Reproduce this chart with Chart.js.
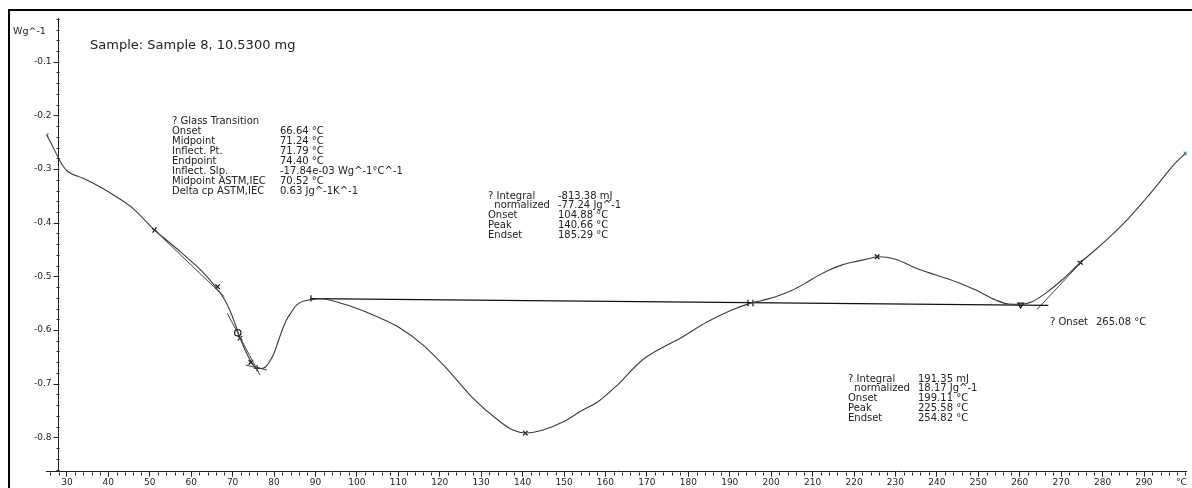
<!DOCTYPE html>
<html>
<head>
<meta charset="utf-8">
<script src="https://cdn.jsdelivr.net/npm/chart.js@4.4.1/dist/chart.umd.min.js"></script>
<style>
  html, body { margin: 0; padding: 0; background: #fff; }
  canvas { display: block; }
</style>
</head>
<body>
<canvas id="dsc" width="1192" height="488"></canvas>
<script>
// DSC heating curve, Sample 8 (10.5300 mg): temperature in °C, heat flow in W/g
const temperature = [
  25.12, 26.4, 27.84, 29.04, 30.31, 33.92, 37.93, 41.94, 45.93, 51.15,
  53.31, 55.47, 57.63, 59.80, 61.96, 64.12, 66.28, 67.97, 69.41, 70.61,
  71.81, 73.01, 74.21, 75.17, 75.97, 76.86, 77.99, 79.02, 79.98, 80.94,
  81.98, 82.99, 83.99, 85.03, 85.99, 87.19, 88.39, 89.59, 91.28, 96.8,
  102.8, 110.0, 116.0, 122.0, 128.0, 134.05, 137.65, 141.0, 144.9, 149.7,
  154.5, 158.1, 162.9, 168.9, 174.9, 177.3, 184.5, 190.5, 194.9, 197.8,
  201.4, 204.9, 208.1, 211.0, 213.9, 217.0, 220.6, 223.5, 225.8, 230.0,
  235.0, 239.8, 244.6, 249.4, 254.2, 257.3, 260.2, 263.0, 266.2, 270.2,
  274.6, 278.2, 282.2, 286.33, 290.17, 293.78, 296.90, 300.0
];
const heatFlow = [
  -0.2366, -0.2552, -0.2776, -0.2944, -0.3050, -0.3173, -0.3330, -0.3516, -0.3732, -0.4136,
  -0.4276, -0.4416, -0.4556, -0.4705, -0.4854, -0.5031, -0.5236, -0.5422, -0.5646, -0.5888,
  -0.6149, -0.6373, -0.6559, -0.6671, -0.6714, -0.6718, -0.6684, -0.6578, -0.6434, -0.6224,
  -0.6000, -0.5814, -0.5689, -0.5571, -0.5502, -0.5460, -0.5441, -0.5428, -0.5418, -0.5515,
  -0.5683, -0.5944, -0.6280, -0.6745, -0.7267, -0.7677, -0.7864, -0.7920, -0.7864, -0.7715,
  -0.7491, -0.7342, -0.7025, -0.6559, -0.6280, -0.6187, -0.5851, -0.5628, -0.5503, -0.5448,
  -0.5371, -0.5265, -0.5135, -0.5000, -0.4885, -0.4790, -0.4720, -0.4672, -0.4634, -0.4680,
  -0.4850, -0.4975, -0.5100, -0.5255, -0.5441, -0.5515, -0.5520, -0.5473, -0.5316, -0.5068,
  -0.4746, -0.4509, -0.4230, -0.3913, -0.3577, -0.3242, -0.2944, -0.2707
];

// Integration baseline shared by both peaks
const baselineT = [88.9, 266.9];
const baselineV = [-0.5415, -0.5540];

// Glass transition construction lines
const tgBeforeT = [51.15, 68.0];
const tgBeforeV = [-0.4136, -0.5380];
const tgInflectT = [68.69, 76.62];
const tgInflectV = [-0.5685, -0.6840];
const tgAfterT = [73.18, 78.3];
const tgAfterV = [-0.6652, -0.6745];

// Onset tangent of the final rise
const onsetTanT = [264.2, 275.8];
const onsetTanV = [-0.5614, -0.4658];

// Evaluation markers
const markerT = [51.15, 66.35, 71.24, 71.79, 74.40, 75.9, 88.9, 140.66, 194.4, 195.6, 225.58, 260.2, 274.6];
const markerV = [-0.4136, -0.5190, -0.6050, -0.6150, -0.6600, -0.6710, -0.5410, -0.7920, -0.5495, -0.5497, -0.4634, -0.5530, -0.4746];
const markerStyle = ['cross', 'crossRot', 'circle', 'crossRot', 'crossRot', 'cross', 'line', 'crossRot', 'line', 'line', 'crossRot', 'triangle', 'cross'];
const markerRotation = [35, 0, 0, 0, 0, 0, 90, 0, 90, 90, 0, 180, 35];

// Curve end points
const endT = [25.12, 300.0];
const endV = [-0.2366, -0.2707];

// Axis ticks
const xTickValues = [30, 40, 50, 60, 70, 80, 90, 100, 110, 120, 130, 140, 150, 160, 170, 180, 190, 200, 210, 220, 230, 240, 250, 260, 270, 280, 290];
const yTickValues = [-0.8, -0.7, -0.6, -0.5, -0.4, -0.3, -0.2, -0.1];
const yAxisAt = 28.08;

// Evaluation result texts
const sampleText = 'Sample: Sample 8, 10.5300 mg';
const glassLabels = ['? Glass Transition', 'Onset', 'Midpoint', 'Inflect. Pt.', 'Endpoint', 'Inflect. Slp.', 'Midpoint ASTM,IEC', 'Delta cp ASTM,IEC'];
const glassValues = ['', '66.64 °C', '71.24 °C', '71.79 °C', '74.40 °C', '-17.84e-03 Wg^-1°C^-1', '70.52 °C', '0.63 Jg^-1K^-1'];
const integral1Labels = ['? Integral', '  normalized', 'Onset', 'Peak', 'Endset'];
const integral1Values = ['-813.38 mJ', '-77.24 Jg^-1', '104.88 °C', '140.66 °C', '185.29 °C'];
const integral2Labels = ['? Integral', '  normalized', 'Onset', 'Peak', 'Endset'];
const integral2Values = ['191.35 mJ', '18.17 Jg^-1', '199.11 °C', '225.58 °C', '254.82 °C'];
const onsetLabel = '? Onset';
const onsetValue = '265.08 °C';

const toPts = (xs, ys) => xs.map((x, i) => ({ x, y: ys[i] }));
const FONT = '"DejaVu Sans", Verdana, sans-serif';
const INK = '#222';

const segment = (xs, ys, color, width) => ({
  data: toPts(xs, ys), borderColor: color, borderWidth: width,
  pointRadius: 0, fill: false, tension: 0
});

const decorPlugin = {
  id: 'decor',
  beforeDraw(chart) {
    const c = chart.ctx;
    c.save();
    c.fillStyle = '#fff';
    c.fillRect(0, 0, chart.width, chart.height);
    c.strokeStyle = '#000';
    c.lineWidth = 2;
    c.beginPath();
    c.moveTo(9, chart.height);
    c.lineTo(9, 10);
    c.lineTo(chart.width, 10);
    c.stroke();
    c.restore();
  },
  afterDraw(chart) {
    const c = chart.ctx;
    const xs = chart.scales.x, ys = chart.scales.y;
    c.save();
    c.strokeStyle = INK;
    c.lineWidth = 1;
    c.beginPath();
    // minor ticks on the temperature axis
    const xAxisY = Math.round(ys.getPixelForValue(ys.min)) + 0.5;
    for (let t = 26; t <= 300; t += 2) {
      if (t % 10 === 0 && t <= 290) continue;
      const px = Math.round(xs.getPixelForValue(t)) + 0.5;
      c.moveTo(px, xAxisY);
      c.lineTo(px, xAxisY + 3);
    }
    // major and minor ticks on the heat flow axis
    const yAxisX = Math.round(xs.getPixelForValue(yAxisAt)) + 0.5;
    for (let k = 43; k >= 1; k--) {
      const v = -k * 0.02;
      const py = Math.round(ys.getPixelForValue(v)) + 0.5;
      c.moveTo(yAxisX, py);
      c.lineTo(yAxisX - (k % 5 === 0 ? 6 : 3), py);
    }
    c.stroke();

    c.fillStyle = INK;
    c.textBaseline = 'middle';
    c.textAlign = 'right';
    c.font = '9px ' + FONT;
    yTickValues.forEach(v => {
      c.fillText(v.toFixed(1), yAxisX - 8, ys.getPixelForValue(v));
    });

    c.textAlign = 'left';
    c.font = '9.5px ' + FONT;
    c.fillText('Wg^-1', 13, 32);
    c.font = '9px ' + FONT;
    c.fillText('°C', 1176, 483);

    c.font = '13px ' + FONT;
    c.fillText(sampleText, 90, 46);

    c.font = '10px ' + FONT;
    const block = (labels, values, x0, x1, y0, dy) => {
      labels.forEach((s, i) => {
        const y = y0 + i * dy;
        c.fillText(s, x0, y);
        if (values[i]) c.fillText(values[i], x1, y);
      });
    };
    block(glassLabels, glassValues, 172, 280, 121, 10);
    block(integral1Labels, integral1Values, 488, 558, 196, 9.8);
    block(integral2Labels, integral2Values, 848, 918, 379, 9.8);
    c.fillText(onsetLabel, 1050, 322);
    c.fillText(onsetValue, 1096, 322);
    c.restore();
  }
};

new Chart(document.getElementById('dsc'), {
  type: 'line',
  data: {
    datasets: [
      {
        data: toPts(temperature, heatFlow),
        borderColor: '#3a3a3a', borderWidth: 1.1,
        pointRadius: 0, fill: false,
        cubicInterpolationMode: 'monotone'
      },
      segment(baselineT, baselineV, '#111', 1.4),
      segment(tgBeforeT, tgBeforeV, '#444', 1),
      segment(tgInflectT, tgInflectV, '#444', 1),
      segment(tgAfterT, tgAfterV, '#444', 1),
      segment(onsetTanT, onsetTanV, '#444', 1),
      {
        data: toPts(markerT, markerV), showLine: false,
        pointStyle: markerStyle, rotation: markerRotation,
        pointRadius: 3.2, pointBorderColor: '#111', pointBackgroundColor: '#fff',
        pointBorderWidth: 1.2
      },
      {
        data: toPts(endT, endV), showLine: false,
        pointStyle: 'crossRot', pointRadius: 2.5,
        pointBorderColor: '#3c9a80', pointBorderWidth: 1.2
      }
    ]
  },
  options: {
    responsive: false,
    animation: false,
    events: [],
    layout: { padding: { left: 46.2, top: 18.8, right: 0, bottom: 0 } },
    plugins: { legend: { display: false }, tooltip: { enabled: false } },
    scales: {
      x: {
        type: 'linear', position: 'bottom',
        min: 25, max: 300.33,
        afterBuildTicks: s => { s.ticks = xTickValues.map(v => ({ value: v })); },
        afterFit: s => { s.height = 16.3; },
        grid: { display: true, drawOnChartArea: false, drawTicks: true, tickLength: 5, tickColor: INK, tickWidth: 1 },
        border: { display: true, color: INK, width: 1 },
        ticks: { color: INK, font: { family: FONT, size: 9 }, padding: 1, maxRotation: 0, autoSkip: false,
                 callback: v => String(v) }
      },
      y: {
        type: 'linear', position: { x: yAxisAt },
        min: -0.864, max: -0.02,
        afterBuildTicks: s => { s.ticks = yTickValues.map(v => ({ value: v })); },
        grid: { display: false },
        border: { display: true, color: INK, width: 1 },
        ticks: { display: false }
      }
    }
  },
  plugins: [decorPlugin]
});
</script>
</body>
</html>
